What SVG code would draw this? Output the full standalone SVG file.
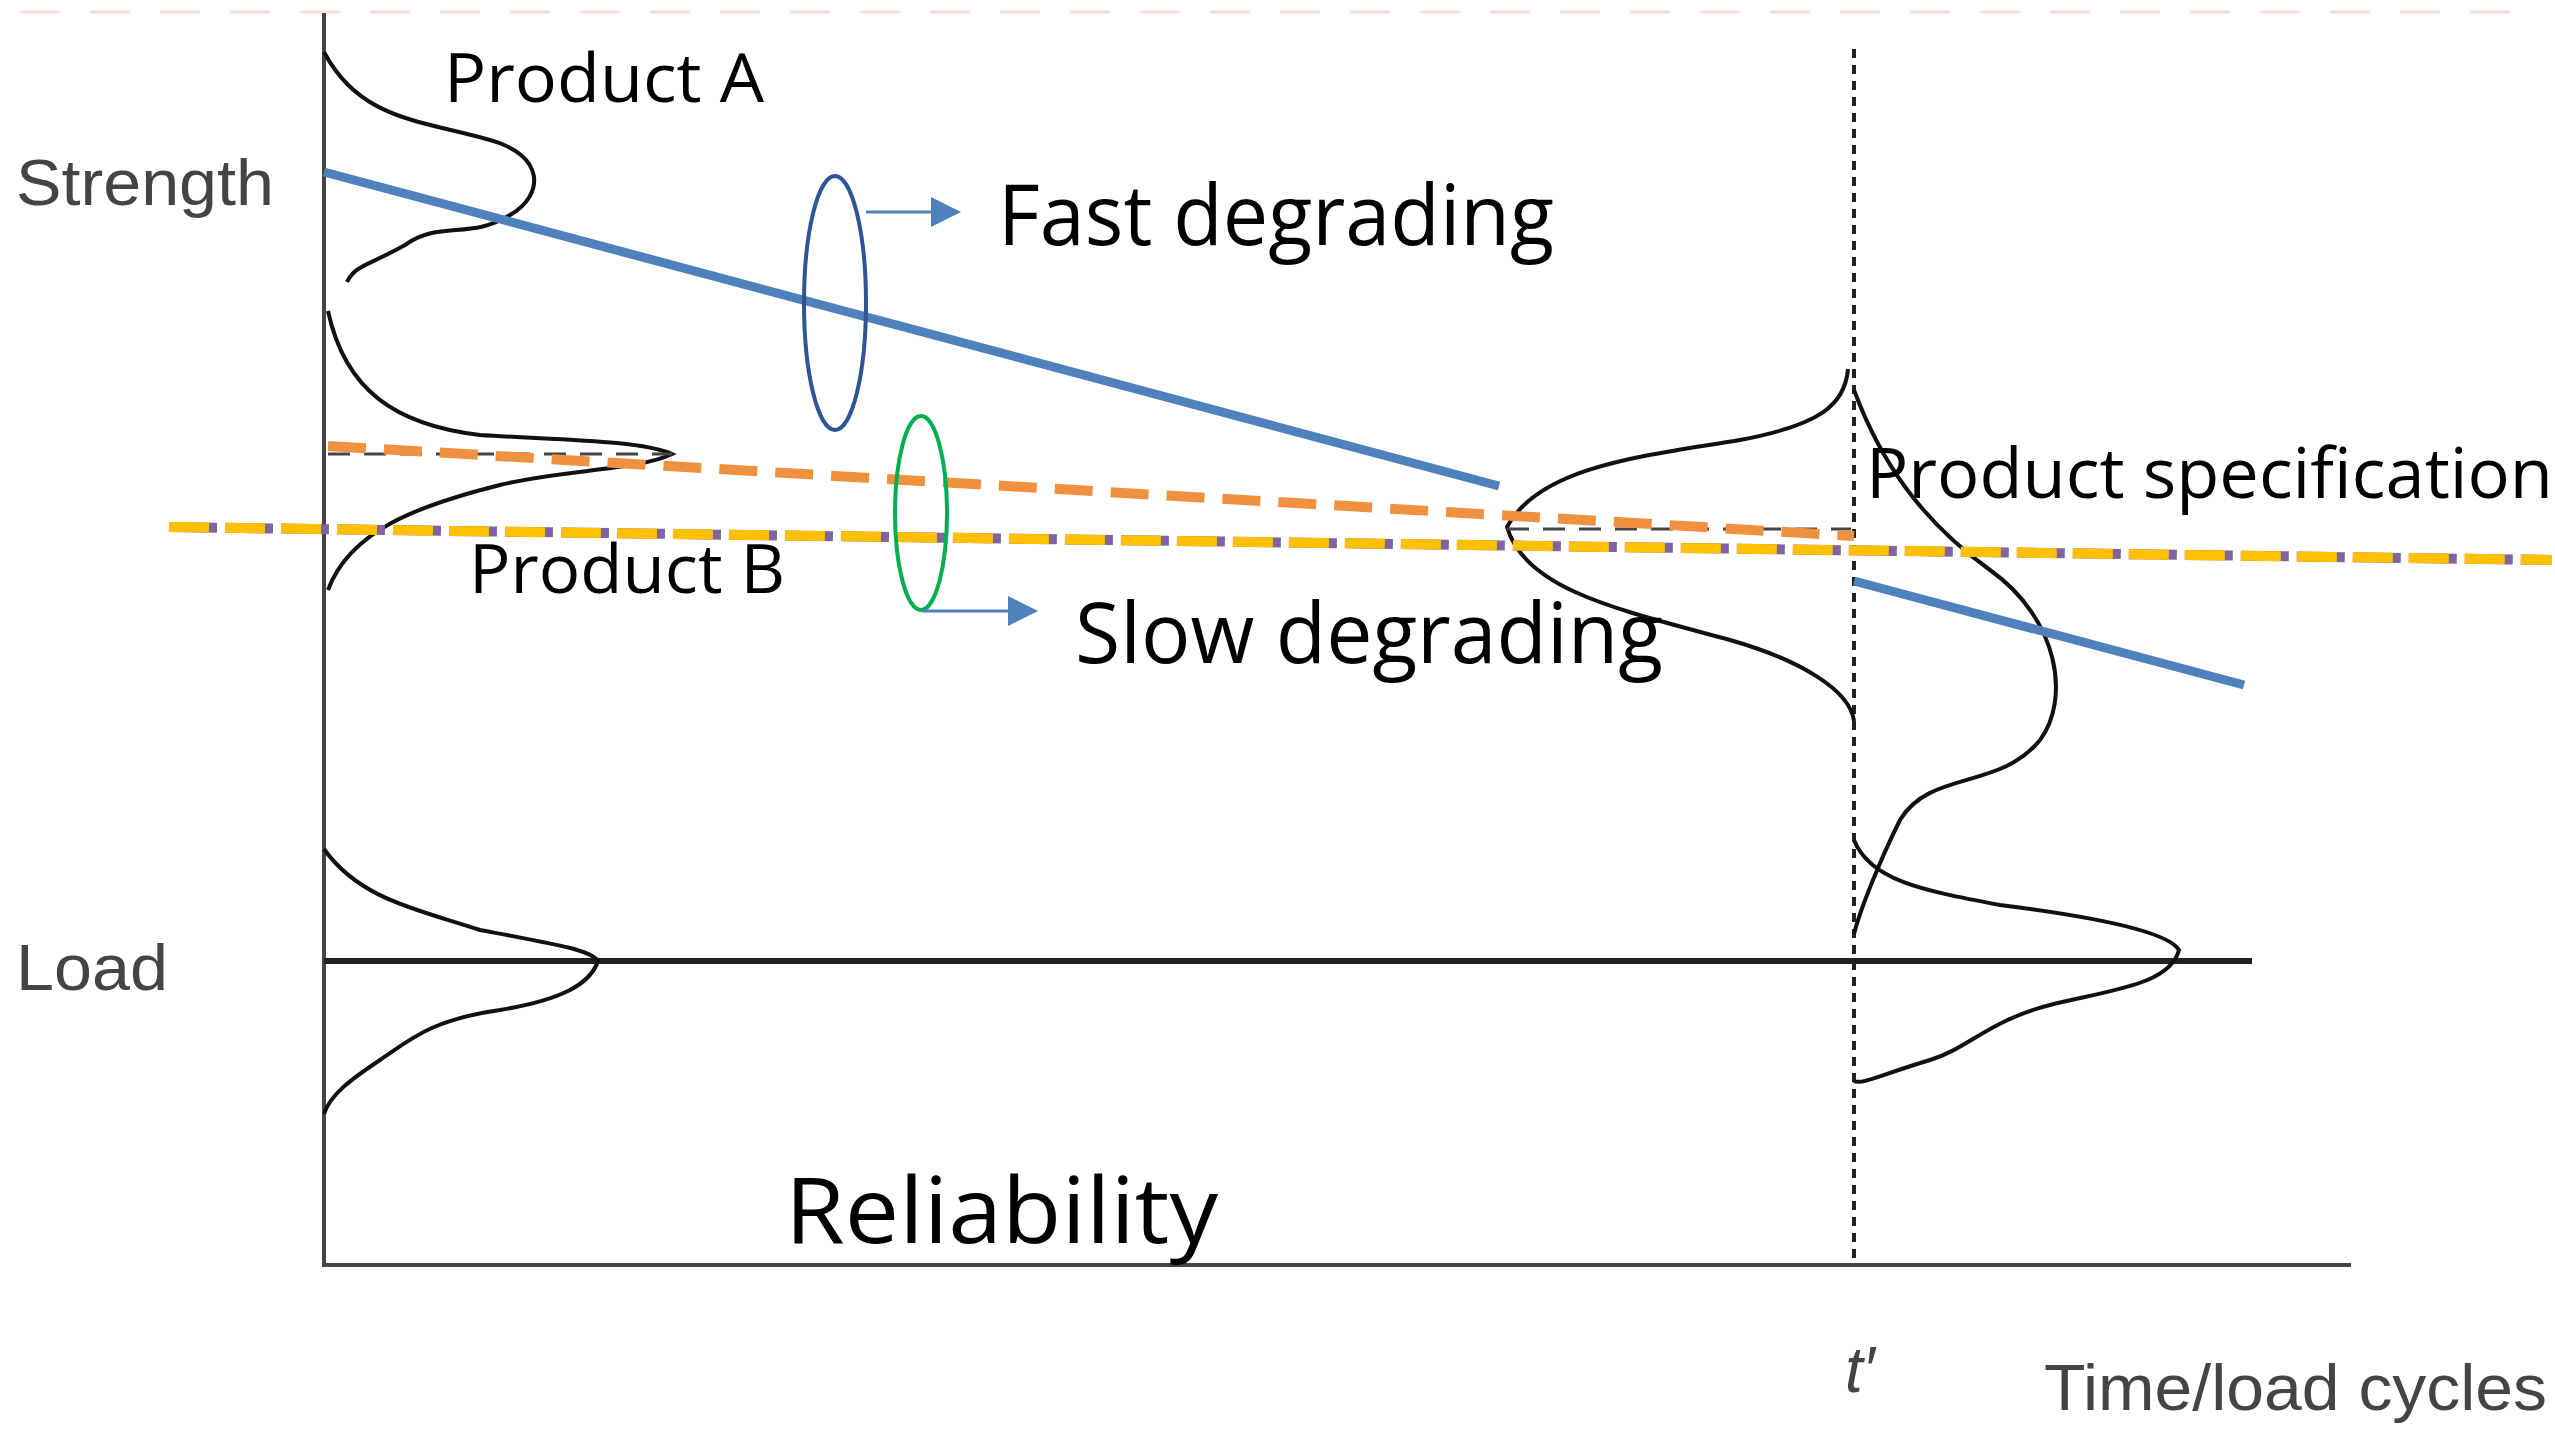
<svg xmlns="http://www.w3.org/2000/svg" width="2555" height="1443" viewBox="0 0 2555 1443">
<style>
.ax{stroke:#444;stroke-width:4;fill:none}
.crv{stroke:#111;stroke-width:4;fill:none}
.lbl{font-family:"Open Sans","Liberation Sans",sans-serif;fill:#000}
.gry{font-family:"Liberation Sans",sans-serif;fill:#444}
</style>
<defs>
<marker id="ah" markerWidth="10" markerHeight="10" refX="9" refY="5" orient="auto" markerUnits="userSpaceOnUse"><path d="M0,0 L10,5 L0,10 Z" fill="#4F81BD" transform="scale(1)"/></marker>
<marker id="ah2" viewBox="0 0 10 10" markerWidth="30" markerHeight="30" refX="9" refY="5" orient="auto" markerUnits="userSpaceOnUse"><path d="M0,0 L10,5 L0,10 Z" fill="#4F81BD"/></marker>
</defs>
<rect width="2555" height="1443" fill="#fff"/>
<line x1="20" y1="12" x2="2540" y2="12" stroke="#f6dede" stroke-width="3" stroke-dasharray="40,30"/>
<g id="axes">
<line class="ax" x1="324" y1="13" x2="324" y2="1265"/>
<line class="ax" x1="322" y1="1265" x2="2351" y2="1265" stroke-width="6"/>
<line x1="324" y1="961" x2="2252" y2="961" stroke="#222" stroke-width="6"/>
<line x1="1854" y1="49" x2="1854" y2="1265" stroke="#222" stroke-width="4" stroke-dasharray="9,7"/>
</g>
<g id="curves">
<path class="crv" d="M324,52 C360,120 420,120 490,140 C545,155 545,195 510,215 C470,240 440,220 405,245 C370,265 355,265 347,282"/>
<path class="crv" d="M328,311 C345,390 395,425 480,435 C560,440 640,440 672,454 C640,470 560,470 500,485 C420,505 350,530 328,590"/>
<path class="crv" d="M1848,369 C1845,405 1820,425 1740,440 C1650,455 1540,465 1507,527 C1525,590 1620,610 1730,640 C1800,660 1850,690 1854,721"/>
<path class="crv" d="M1854,390 C1880,460 1920,520 1990,570 C2060,620 2070,700 2040,740 C2000,790 1930,770 1900,820 C1880,860 1860,910 1854,934"/>
<path class="crv" d="M324,849 C360,900 420,910 480,930 C560,945 590,950 598,961 C590,985 560,1000 500,1010 C430,1020 410,1040 380,1060 C350,1080 330,1095 324,1114"/>
<path class="crv" d="M1854,840 C1870,880 1920,890 2000,905 C2120,920 2170,935 2179,950 C2170,985 2110,990 2050,1005 C1990,1020 1965,1050 1930,1060 C1880,1075 1862,1085 1854,1081"/>
</g>
<g id="lines">
<line x1="324" y1="172" x2="1499" y2="486" stroke="#4F81BD" stroke-width="9"/>
<line x1="1854" y1="581" x2="2244" y2="685" stroke="#4F81BD" stroke-width="9"/>
<line x1="328" y1="454" x2="672" y2="454" stroke="#444" stroke-width="3" stroke-dasharray="22,14"/>
<line x1="1507" y1="529" x2="1851" y2="529" stroke="#444" stroke-width="3" stroke-dasharray="22,14"/>
<line x1="328" y1="446" x2="1854" y2="536" stroke="#F0913F" stroke-width="10" stroke-dasharray="38,18"/>
<line x1="169" y1="527" x2="2552" y2="560" stroke="#8064A2" stroke-width="10" stroke-dasharray="48,8"/>
<line x1="169" y1="527" x2="2552" y2="560" stroke="#FFC000" stroke-width="10" stroke-dasharray="40,16"/>
</g>
<g id="callouts">
<ellipse cx="835" cy="303" rx="31" ry="127" fill="none" stroke="#2F5597" stroke-width="4"/>
<line x1="866" y1="212" x2="958" y2="212" stroke="#4F81BD" stroke-width="3" marker-end="url(#ah2)"/>
<ellipse cx="921" cy="513" rx="26" ry="97" fill="none" stroke="#00B050" stroke-width="4"/>
<line x1="922" y1="611" x2="1035" y2="611" stroke="#4F81BD" stroke-width="3" marker-end="url(#ah2)"/>
</g>
<g id="labels">
<text class="gry" x="16" y="205" font-size="64" textLength="258" lengthAdjust="spacingAndGlyphs">Strength</text>
<text class="gry" x="16" y="990" font-size="64" textLength="152" lengthAdjust="spacingAndGlyphs">Load</text>
<text class="gry" x="1845" y="1392" font-size="64" font-style="italic">t′</text>
<text class="gry" x="2044" y="1410" font-size="64" textLength="503" lengthAdjust="spacingAndGlyphs">Time/load cycles</text>
<text class="lbl" x="444" y="102" font-size="68" textLength="320" lengthAdjust="spacingAndGlyphs">Product A</text>
<text class="lbl" x="998" y="245" font-size="84" textLength="556" lengthAdjust="spacingAndGlyphs">Fast degrading</text>
<text class="lbl" x="469" y="593" font-size="68" textLength="316" lengthAdjust="spacingAndGlyphs">Product B</text>
<text class="lbl" x="1075" y="663" font-size="84" textLength="588" lengthAdjust="spacingAndGlyphs">Slow degrading</text>
<text class="lbl" x="1866" y="498" font-size="70" textLength="687" lengthAdjust="spacingAndGlyphs">Product specification</text>
<text class="lbl" x="785" y="1243" font-size="92" textLength="433" lengthAdjust="spacingAndGlyphs">Reliability</text>
</g>
</svg>
